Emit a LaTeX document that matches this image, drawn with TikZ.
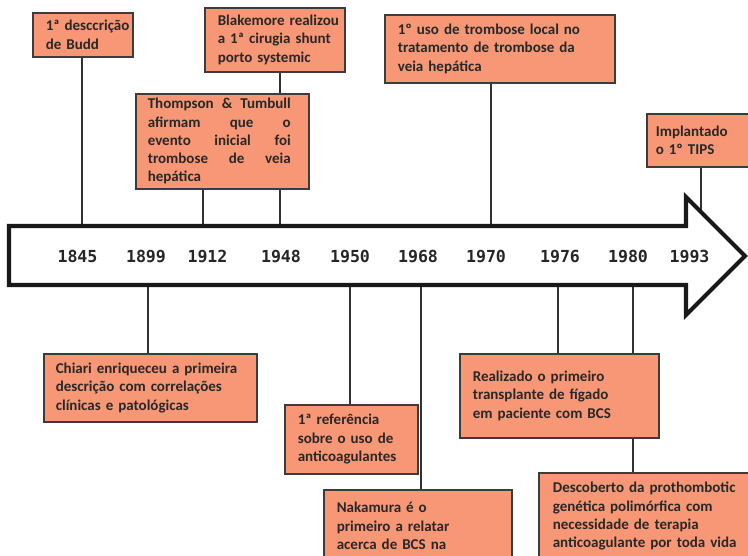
\documentclass[tikz,border=0pt]{standalone}
\usepackage{fontspec}
\setmainfont{Carlito}
\newfontfamily\yearfont{DejaVu Sans Mono}
\definecolor{salmon}{RGB}{247,151,118}
\definecolor{boxline}{RGB}{60,60,60}
\definecolor{txt}{RGB}{40,40,40}
\definecolor{conn}{RGB}{50,50,50}
\pgfdeclarelayer{bg}
\pgfsetlayers{bg,main}
\begin{document}
\begin{tikzpicture}[x=1pt,y=-1pt,
  box/.style={draw=boxline, line width=1.6pt, fill=salmon, anchor=north west,
    inner xsep=0pt, inner ysep=0pt, align=left, text=txt,
    font=\fontsize{15}{18.3}\selectfont\bfseries},
  bpad/.style={execute at begin node={\leftskip=#1pt\relax}},
  connector/.style={draw=conn, line width=1.3pt},
  yearlbl/.style={font=\yearfont\bfseries\fontsize{16.6}{18}\selectfont, text=black!85, inner sep=0pt, anchor=base},
  arrowbody/.style={draw=black!90, line width=4.2pt, fill=white, line join=miter, miter limit=10}
]
\useasboundingbox (0,0) rectangle (748,556);
\clip (0,0) rectangle (748,556);

% attachment points on the arrow
\coordinate (t1845) at (82,226);
\coordinate (t1912) at (203,226);
\coordinate (t1948) at (280,226);
\coordinate (t1970) at (491,226);
\coordinate (t1993) at (701,211);
\coordinate (b1899) at (148,285);
\coordinate (b1950) at (350,285);
\coordinate (b1968) at (421,285);
\coordinate (b1976) at (558,285);
\coordinate (b1980) at (633,285);

% arrow
\draw[arrowbody] (9,226) -- (686,226) -- (686,197) -- (745,256) -- (686,315)
  -- (686,285) -- (9,285) -- cycle;

% year labels
\foreach \yr/\xx in {1845/77.5,1899/146,1912/207.5,1948/281,1950/350,1968/418,1970/486,1976/560,1980/628,1993/689.5}
  \node[yearlbl] (y\yr) at (\xx,263) {\yr};

% upper boxes
\node[box, bpad=13, text width=100pt, minimum height=44pt] (budd) at (32,12)
  {1ª desccrição\\de Budd};
\node[box, bpad=13, text width=140pt, minimum height=64pt] (blake) at (204,7)
  {Blakemore realizou\\a 1ª cirugia shunt\\porto systemic};
\node[box, align=justify, text width=173pt, minimum height=95pt,
  execute at begin node={\leftskip=12pt\rightskip=18pt\relax}] (thomp) at (135,93)
  {Thompson \& Tumbull\linebreak afirmam que o\linebreak evento inicial foi\linebreak trombose de veia\linebreak hepática};
\node[box, bpad=13, text width=230pt, minimum height=68pt] (uso) at (384,14)
  {1º uso de trombose local no\\tratamento de trombose da\\veia hepática};
\node[box, bpad=9, text width=110pt, minimum height=53pt] (tips) at (646,113)
  {Implantado\\o 1º TIPS};

% lower boxes
\node[box, bpad=12, text width=213pt, minimum height=68pt] (chiari) at (43,353)
  {Chiari enriqueceu a primeira\\descrição com correlações\\clínicas e patológicas};
\node[box, bpad=13, text width=133pt, minimum height=69pt] (ref) at (284,404)
  {1ª referência\\sobre o uso de\\anticoagulantes};
\node[box, bpad=13, text width=188pt, inner ysep=12.5pt, text height=10.5pt, text depth=80pt] (naka) at (323,489)
  {Nakamura é o\\primeiro a relatar\\acerca de BCS na};
\node[box, bpad=13, text width=199pt, minimum height=84pt] (real) at (459,353)
  {Realizado o primeiro\\transplante de fígado\\em paciente com BCS};
\node[box, bpad=14, text width=230pt, minimum height=87pt] (desc) at (538,472)
  {Descoberto da prothombotic\\genética polimórfica com\\necessidade de terapia\\anticoagulante por toda vida};

% connectors, behind boxes and arrow
\begin{pgfonlayer}{bg}
\draw[connector] (budd.south -| t1845) -- (t1845);
\draw[connector] (blake.south -| t1948) -- (t1948);
\draw[connector] (thomp.south -| t1912) -- (t1912);
\draw[connector] (uso.south -| t1970) -- (t1970);
\draw[connector] (tips.south -| t1993) -- (t1993);
\draw[connector] (b1899) -- (b1899 |- chiari.north);
\draw[connector] (b1950) -- (b1950 |- ref.north);
\draw[connector] (b1968) -- (b1968 |- naka.north);
\draw[connector] (b1976) -- (b1976 |- real.north);
\draw[connector] (b1980) -- (b1980 |- desc.north);
\end{pgfonlayer}
\end{tikzpicture}
\end{document}
